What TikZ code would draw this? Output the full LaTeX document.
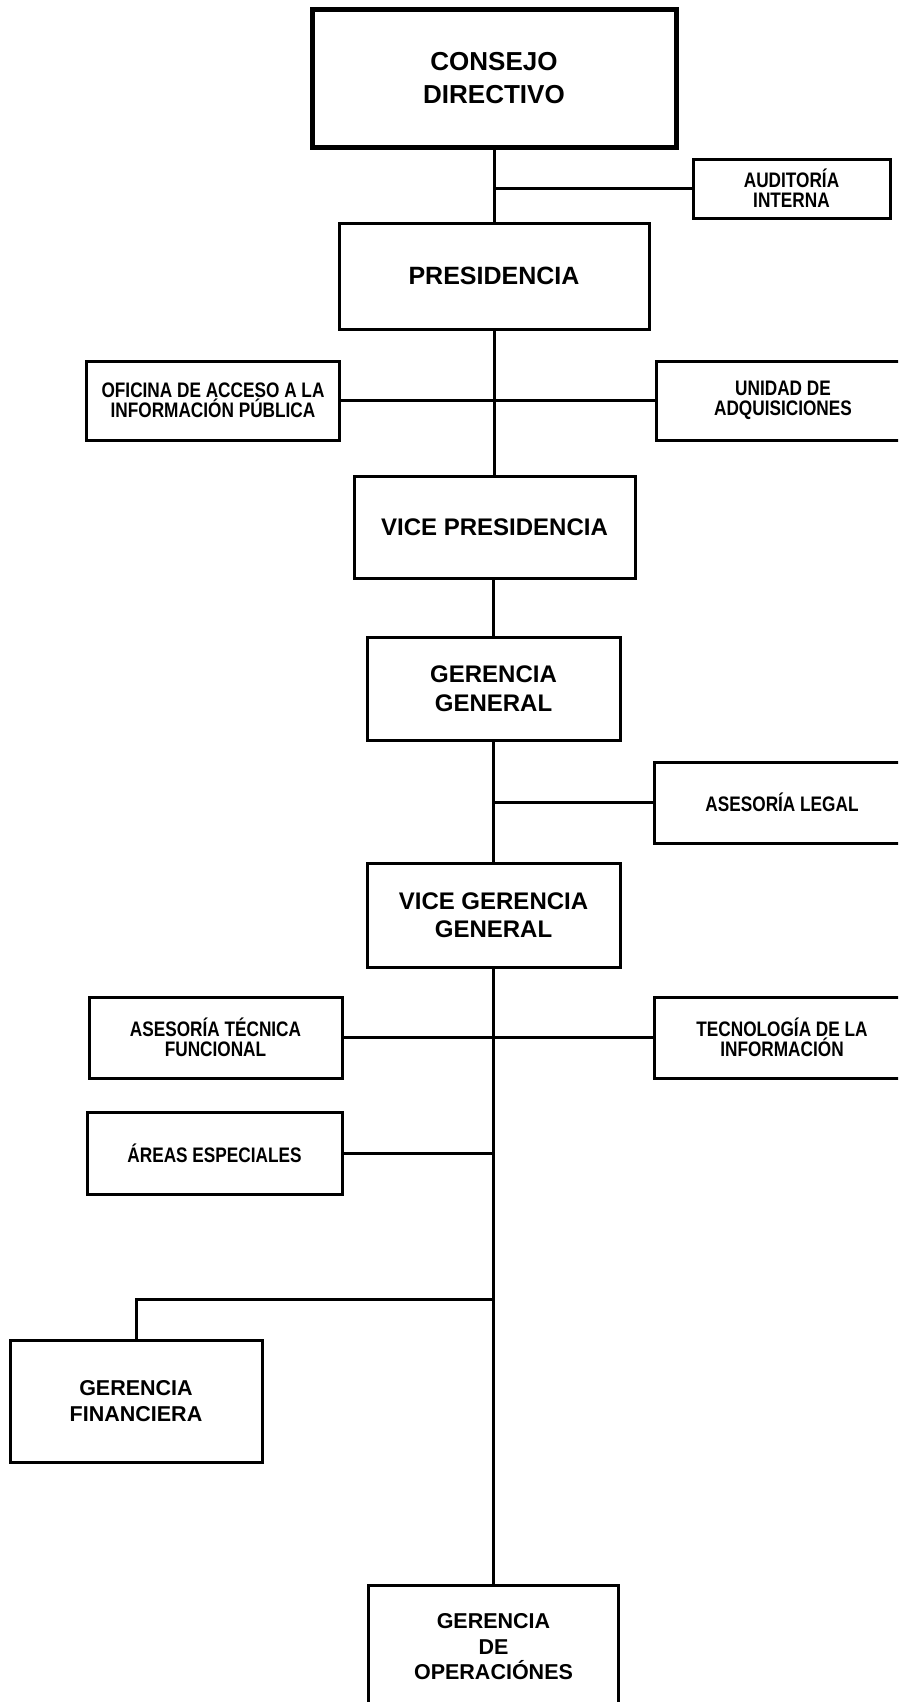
\documentclass[tikz,border=0pt]{standalone}
\usepackage{fontspec}
\setmainfont{Liberation Sans}
\newfontfamily\narrowsans{Liberation Sans}[FakeStretch=0.82]
\tikzset{
  x=1pt, y=-1pt,
  box/.style={draw=black, line width=3pt, rectangle, inner sep=0pt, align=center,
              font=\narrowsans\bfseries\fontsize{21}{20}\selectfont},
  mainbox/.style={box, font=\bfseries\fontsize{24}{28.5}\selectfont},
  topbox/.style={box, line width=5pt, font=\bfseries\fontsize{26}{33}\selectfont},
  lowbox/.style={box, font=\bfseries\fontsize{21.5}{26}\selectfont},
  link/.style={draw=black, line width=3pt}
}
\begin{document}
\begin{tikzpicture}
\useasboundingbox (0,0) rectangle (898,1702);
\fill[white] (0,0) rectangle (898,1702);
\clip (0,0) rectangle (898,1702);

% nodes
\node[topbox, minimum width=364, minimum height=138] (consejo) at (494,78.5) {CONSEJO\\DIRECTIVO};
\node[box, minimum width=197, minimum height=59] (auditoria) at (791.5,188.5) {AUDITORÍA\\INTERNA};
\node[mainbox, font=\bfseries\fontsize{25}{29}\selectfont, minimum width=310, minimum height=106] (presidencia) at (494,276) {PRESIDENCIA};
\node[box, minimum width=253, minimum height=79] (oficina) at (213,400.5) {OFICINA DE ACCESO A LA\\INFORMACIÓN PÚBLICA};
\node[box, minimum width=254, minimum height=79] (unidad) at (783,400.5) {UNIDAD DE\\ADQUISICIONES};
\node[mainbox, minimum width=281, minimum height=102] (vicepres) at (494.5,527) {VICE PRESIDENCIA};
\node[mainbox, minimum width=253, minimum height=103] (gg) at (493.5,688.5) {GERENCIA\\GENERAL};
\node[box, minimum width=256, minimum height=81] (legal) at (782,802.5) {ASESORÍA LEGAL};
\node[mainbox, minimum width=253, minimum height=104] (vgg) at (493.5,915) {VICE GERENCIA\\GENERAL};
\node[box, minimum width=253, minimum height=81] (atf) at (215.5,1037.5) {ASESORÍA TÉCNICA\\FUNCIONAL};
\node[box, minimum width=256, minimum height=81] (ti) at (782,1037.5) {TECNOLOGÍA DE LA\\INFORMACIÓN};
\node[box, minimum width=255, minimum height=82] (areas) at (214.5,1153) {ÁREAS ESPECIALES};
\node[lowbox, minimum width=252, minimum height=122] (financiera) at (136,1401) {GERENCIA\\FINANCIERA};
\node[lowbox, font=\bfseries\fontsize{21.5}{25.5}\selectfont, minimum width=250, minimum height=124] (ops) at (493.5,1647) {GERENCIA\\DE\\OPERACIÓNES};

\coordinate (jfin) at (493.5,1299);

% connectors
\draw[link] (consejo.south -| presidencia.north) -- (presidencia.north);
\draw[link] (auditoria.west) -- (auditoria.west -| presidencia.north);
\draw[link] (presidencia.south) -- (vicepres.north -| presidencia.south);
\draw[link] (oficina.east) -- (unidad.west);
\draw[link] (vicepres.south -| gg.north) -- (gg.north);
\draw[link] (gg.south) -- (vgg.north);
\draw[link] (legal.west) -- (legal.west -| gg.south);
\draw[link] (vgg.south) -- (ops.north);
\draw[link] (atf.east) -- (ti.west);
\draw[link] (areas.east) -- (areas.east -| vgg.south);
\draw[link] (financiera.north) |- (jfin);
\end{tikzpicture}
\end{document}
